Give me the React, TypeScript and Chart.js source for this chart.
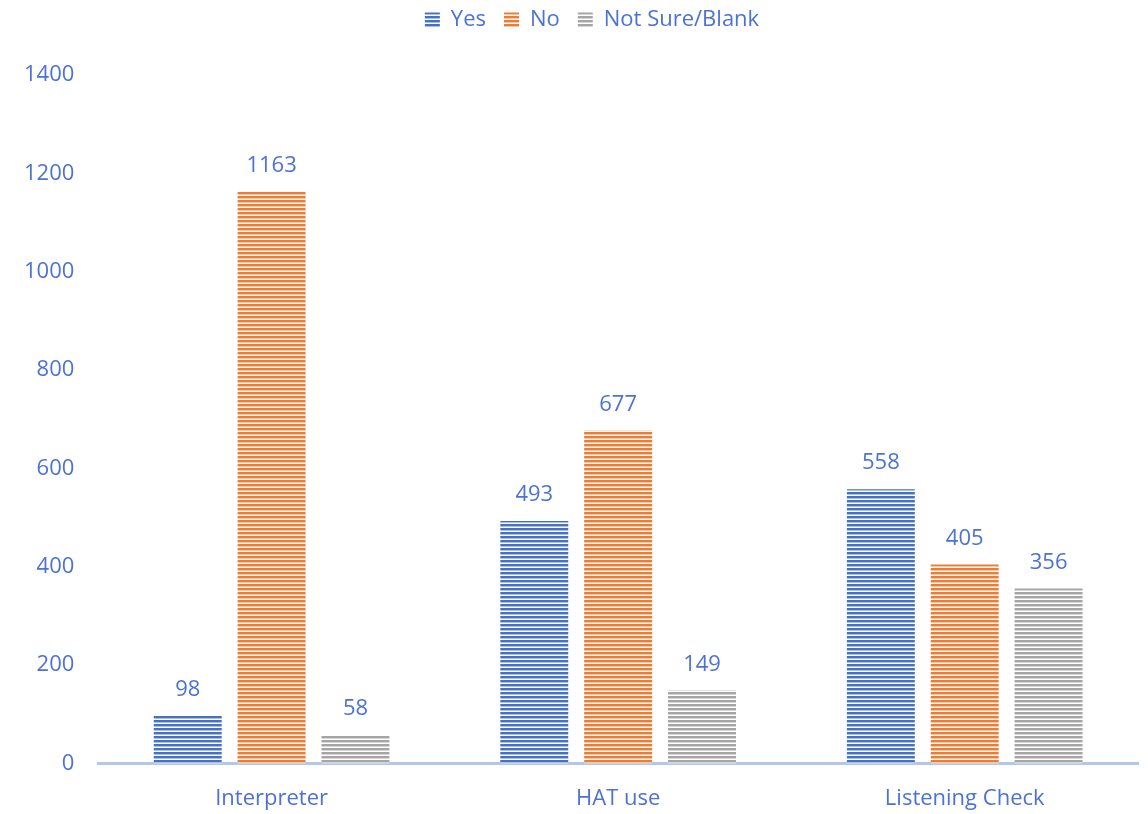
import React, { useEffect, useRef } from "react";
import { Chart, registerables } from "chart.js";

Chart.register(...registerables);

const categories = ["Interpreter", "HAT use", "Listening Check"];
const yesValues = [98, 493, 558];
const noValues = [1163, 677, 405];
const notSureValues = [58, 149, 356];
const seriesNames = ["Yes", "No", "Not Sure/Blank"];
const yTicks = [0, 200, 400, 600, 800, 1000, 1200, 1400];

const TEXT = "#4D72D6";
const FONT = "'Open Sans', 'Noto Sans', sans-serif";
const FS = 22;

function stripe(color: string): CanvasPattern | string {
  const c = document.createElement("canvas");
  c.width = 4;
  c.height = 4;
  const ctx = c.getContext("2d");
  if (!ctx) return color;
  ctx.fillStyle = "#ffffff";
  ctx.fillRect(0, 0, 4, 4);
  ctx.fillStyle = color;
  ctx.fillRect(0, 0, 4, 2);
  ctx.globalAlpha = 0.45;
  ctx.fillRect(0, 2, 4, 1);
  const p = ctx.createPattern(c, "repeat");
  return p || color;
}

const valueLabels = {
  id: "valueLabels",
  afterDatasetsDraw(chart: any) {
    const ctx = chart.ctx;
    ctx.save();
    ctx.font = `${FS}px ${FONT}`;
    ctx.fillStyle = TEXT;
    ctx.textAlign = "center";
    ctx.textBaseline = "middle";
    chart.data.datasets.forEach((ds: any, i: number) => {
      const meta = chart.getDatasetMeta(i);
      meta.data.forEach((bar: any, j: number) => {
        ctx.fillText(String(ds.data[j]), bar.x, bar.y - 26);
      });
    });
    ctx.restore();
  },
};

const legendSpace = {
  id: "legendSpace",
  afterInit(chart: any) {
    const lg = chart.legend;
    if (!lg) return;
    const orig = lg.fit;
    lg.fit = function () {
      orig.call(this);
      this.height += 34;
    };
  },
  afterLayout(chart: any) {
    const lg = chart.legend;
    if (!lg) return;
    lg.left += 23;
    lg.right += 23;
  },
};

export default function App() {
  const ref = useRef<HTMLCanvasElement>(null);
  useEffect(() => {
    if (!ref.current) return;
    const chart = new Chart(ref.current, {
      type: "bar",
      data: {
        labels: categories,
        datasets: [
          { label: seriesNames[0], data: yesValues, backgroundColor: stripe("#4472C4") as any, borderWidth: 0 },
          { label: seriesNames[1], data: noValues, backgroundColor: stripe("#ED7D31") as any, borderWidth: 0 },
          { label: seriesNames[2], data: notSureValues, backgroundColor: stripe("#A5A5A5") as any, borderWidth: 0 },
        ],
      },
      options: {
        animation: false,
        responsive: false,
        maintainAspectRatio: false,
        layout: { padding: { top: -9, left: 0, right: 10, bottom: -20 } },
        datasets: { bar: { categoryPercentage: 0.726, barPercentage: 0.81 } },
        plugins: {
          legend: {
            position: "top",
            labels: {
              color: TEXT,
              font: { family: FONT, size: FS },
              boxWidth: 15,
              boxHeight: 15,
              padding: 18,
            },
          },
          tooltip: { enabled: false },
        },
        scales: {
          x: {
            grid: { display: false, drawTicks: false },
            border: { display: true, color: "#B4C7E7", width: 3 },
            ticks: { color: TEXT, font: { family: FONT, size: FS }, padding: 22 },
          },
          y: {
            min: 0,
            max: 1400,
            afterBuildTicks: (axis: any) => {
              axis.ticks = yTicks.map((v) => ({ value: v }));
            },
            grid: { display: false, drawTicks: false },
            border: { display: false },
            ticks: {
              color: TEXT,
              font: { family: FONT, size: FS },
              padding: 24,
              callback: (v: any) => String(v),
            },
          },
        },
      },
      plugins: [valueLabels, legendSpace],
    });
    return () => chart.destroy();
  }, []);
  return (
    <div style={{ position: "fixed", left: 0, top: 0, width: 1148, height: 814, background: "#fff" }}>
      <canvas ref={ref} width={1148} height={814} />
    </div>
  );
}
